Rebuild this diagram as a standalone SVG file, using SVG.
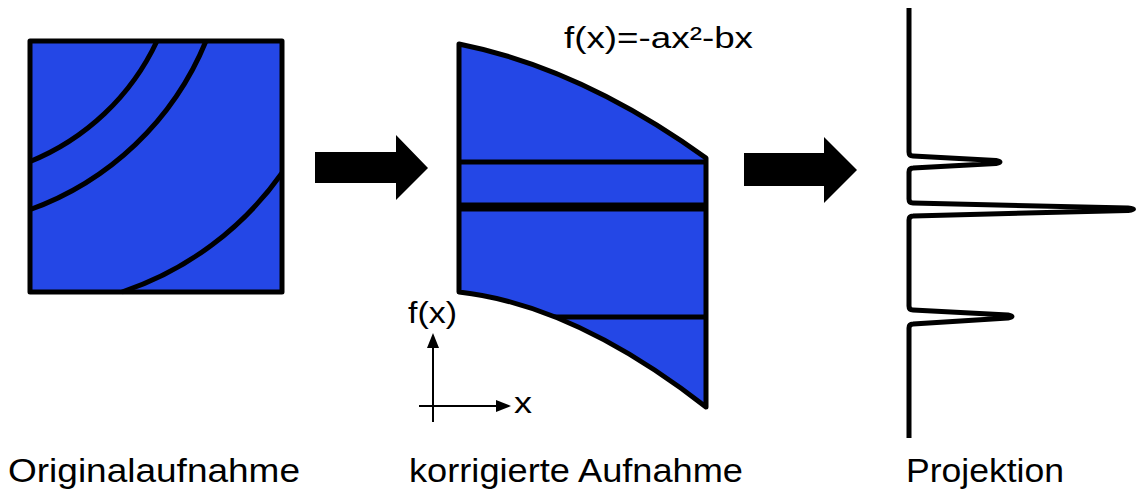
<svg xmlns="http://www.w3.org/2000/svg" width="1139" height="492" viewBox="0 0 1139 492">
  <style>
    .blue { fill: #2447e6; }
    .edge { fill: none; stroke: #000; stroke-width: 5; stroke-linejoin: round; }
    .thin { fill: none; stroke: #000; stroke-width: 2; }
    .lbl { font-family: "Liberation Sans", Arial, sans-serif; fill: #000; }
  </style>
  <defs>
    <clipPath id="corrClip">
      <path d="M459,44 Q582,68.5 706,158 L706,407 Q575,305 459,292 Z"/>
    </clipPath>
  </defs>
  <rect width="1139" height="492" fill="#fff"/>

  <g id="original">
    <rect x="30" y="41" width="252" height="251" class="blue"/>
    <path class="edge" d="M157,41 A240,240 0 0 1 29,162"/>
    <path class="edge" d="M206,41 A300,300 0 0 1 29,210"/>
    <path class="edge" d="M282,173 A320,320 0 0 1 122,292"/>
    <rect x="30" y="41" width="252" height="251" class="edge"/>
  </g>

  <g id="corrected">
    <path class="blue" d="M459,44 Q582,68.5 706,158 L706,407 Q575,305 459,292 Z"/>
    <g clip-path="url(#corrClip)">
      <line x1="450" y1="162" x2="715" y2="162" stroke="#000" stroke-width="5"/>
      <line x1="450" y1="207" x2="715" y2="207" stroke="#000" stroke-width="9"/>
      <line x1="450" y1="317" x2="715" y2="317" stroke="#000" stroke-width="5"/>
    </g>
    <path class="edge" d="M459,44 Q582,68.5 706,158 L706,407 Q575,305 459,292 Z"/>
  </g>

  <g id="projection">
    <path class="edge" stroke-width="4" d="M909,8 V152 Q909,156 913,156 L996,160.5 Q1004,162 996,163.5 L913,168 Q909,168 909,172 V199 Q909,203 913,203 L1128,208 Q1139,209 1128,210.5 L913,216 Q909,216 909,220 V306 Q909,310 913,310 L1008,315 Q1016,316.5 1008,318 L913,324 Q909,324 909,328 V438"/>
  </g>

  <g id="connectors">
    <polygon points="315,152 396,152 396,135 428,168 396,200 396,183 315,183" fill="#000"/>
    <polygon points="744,153 824,153 824,137 857,170 824,203 824,186 744,186" fill="#000"/>
  </g>

  <g id="axes">
    <line class="thin" x1="433" y1="422" x2="433" y2="345"/>
    <polygon points="433,333 427,348 439,348" fill="#000"/>
    <line class="thin" x1="419" y1="406" x2="498" y2="406"/>
    <polygon points="511,406 496,400 496,412" fill="#000"/>
    <text class="lbl" x="408" y="323" font-size="30" textLength="49" lengthAdjust="spacingAndGlyphs">f(x)</text>
    <text class="lbl" x="514" y="413" font-size="30" textLength="18" lengthAdjust="spacingAndGlyphs">x</text>
  </g>

  <g id="formula">
    <text class="lbl" x="564" y="48" font-size="30" textLength="189" lengthAdjust="spacingAndGlyphs">f(x)=-ax²-bx</text>
  </g>

  <g id="labels">
    <text class="lbl" x="8" y="482" font-size="33" textLength="292" lengthAdjust="spacingAndGlyphs">Originalaufnahme</text>
    <text class="lbl" x="409" y="482" font-size="33" textLength="334" lengthAdjust="spacingAndGlyphs">korrigierte Aufnahme</text>
    <text class="lbl" x="906" y="482" font-size="33" textLength="158" lengthAdjust="spacingAndGlyphs">Projektion</text>
  </g>
</svg>
